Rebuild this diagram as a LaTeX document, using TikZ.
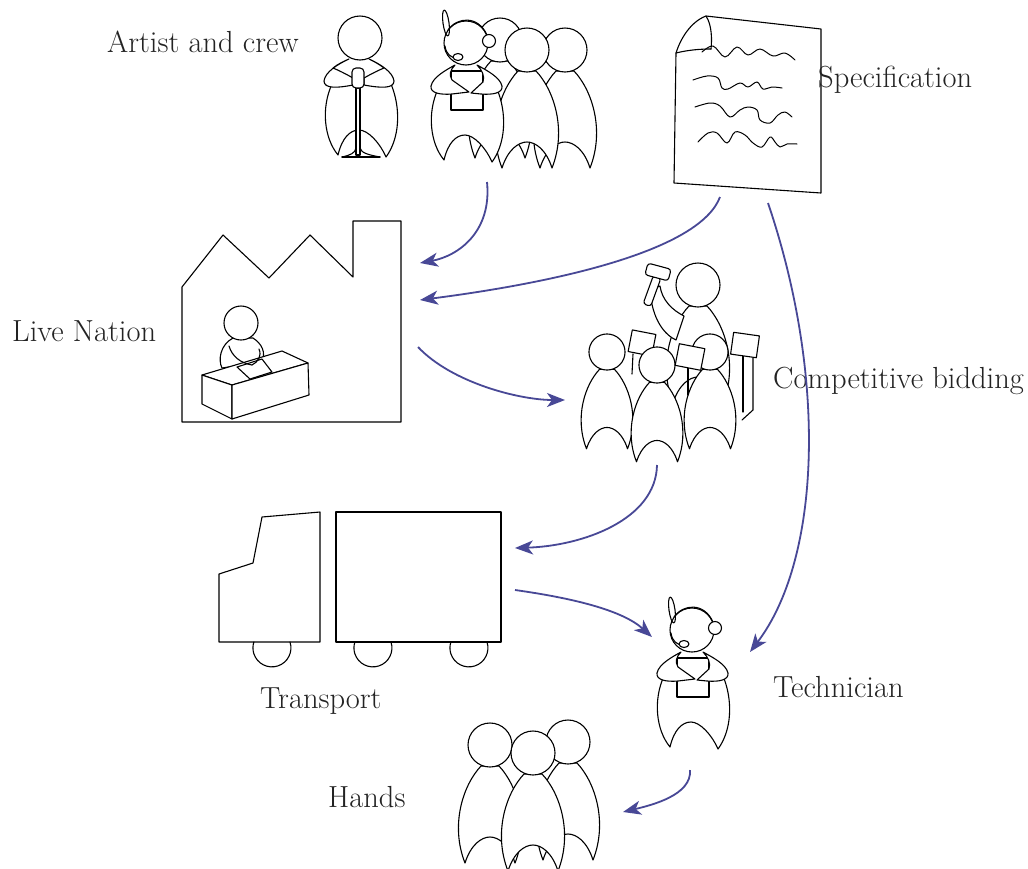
\documentclass[tikz,border=0pt]{standalone}
\usetikzlibrary{arrows.meta}
\definecolor{flowblue}{RGB}{72,72,150}
\definecolor{labelgray}{RGB}{35,35,35}
% lower body below the folded arms (relative to the head centre)
\newcommand{\lowerbody}{(-28,46) .. controls (-39,70) and (-36,100) .. (-22,117)
  .. controls (-18,100) and (-10,92) .. (-1,92)
  .. controls (8,92) and (20,105) .. (26,119)
  .. controls (40,100) and (41,70) .. (31,46) -- cycle}
% folded arms of a crew member holding a clipboard
\newcommand{\clipleftarm}{(-11,22) .. controls (-20,27) and (-33,34) .. (-35,43)
  .. controls (-36,50) and (-26,52) .. (-14,51) -- (3,49) -- (-14,37)
  .. controls (-17,32) and (-16,27) .. (-11,22) -- cycle}
\newcommand{\cliprightarm}{(11,22) .. controls (20,27) and (34,34) .. (36,43)
  .. controls (37,50) and (27,52) .. (15,51) -- (5,50) -- (17,39)
  .. controls (19,33) and (16,27) .. (11,22) -- cycle}
% folded arms of the singer, hands meeting at the microphone
\newcommand{\micleftarm}{(-11,21) .. controls (-22,26) and (-35,34) .. (-36,43)
  .. controls (-36,51) and (-22,50) .. (-7,47) -- (-7,40)
  .. controls (-14,36) and (-22,32) .. (-27,30)
  .. controls (-22,26) and (-16,23) .. (-11,21) -- cycle}
\newcommand{\micrightarm}{(9,21) .. controls (20,26) and (33,34) .. (34,43)
  .. controls (34,51) and (20,50) .. (4,47) -- (4,40)
  .. controls (11,36) and (19,32) .. (24,30)
  .. controls (19,26) and (13,23) .. (9,21) -- cycle}
\tikzset{
  x=1pt, y=-1pt,
  ink/.style={draw=black, line width=1.1pt, fill=white, line join=round, line cap=round},
  wire/.style={draw=black, line width=1.1pt, line join=round, line cap=round},
  flow/.style={draw=flowblue, line width=1.8pt, -{Stealth[length=18pt,width=14pt,inset=5pt]}},
  lbl/.style={anchor=base west, inner sep=0pt, font=\fontsize{30.5}{36}\selectfont, text=labelgray},
  person/.pic={
    \path[ink] (-9,21) .. controls (-27,40) and (-40,80) .. (-25,118)
      .. controls (-19,99) and (-8,92) .. (0,92)
      .. controls (8,92) and (19,99) .. (25,118)
      .. controls (40,80) and (27,40) .. (9,21) -- cycle;
    \path[ink] (0,0) circle[radius=22];
  },
  headset/.pic={
    \path[wire, rotate around={8:(-20,-20)}] (-20,-20) ellipse[x radius=3, y radius=13];
    \path[wire] (-18,-13) .. controls (-9,-26) and (12,-28) .. (21,-8);
    \path[ink] (23,-2) circle[radius=6.5];
    \path[wire] (-21,3) .. controls (-20,11) and (-15,15) .. (-9,15);
    \path[ink] (-8,14) ellipse[x radius=5, y radius=3.5];
  },
  crewman/.pic={
    \path[ink] \lowerbody;
    \path[ink] (-15,28) rectangle (17,67);
    \path[ink] \clipleftarm;
    \path[ink] \cliprightarm;
    \path[ink] (0,0) circle[radius=22];
    \pic {headset};
  },
  singer/.pic={
    \path[ink] \lowerbody;
    \path[ink] (-4,50) rectangle (0,117);
    \path[wire] (-18,119) .. controls (-9,117) and (-5,115) .. (-4,110);
    \path[wire] (20,119) .. controls (9,117) and (1,115) .. (0,110);
    \path[wire] (-18,119) -- (20,119);
    \path[ink] \micleftarm;
    \path[ink] \micrightarm;
    \path[ink, rounded corners=4] (-8,30) rectangle (4,50);
    \path[ink] (0,0) circle[radius=22];
  },
}
\begin{document}
\begin{tikzpicture}
\useasboundingbox (0,0) rectangle (1028,868);
\fill[white] (0,0) rectangle (1028,868);
\clip (0,0) rectangle (1028,868);

% ---------------- artist and crew ----------------
\pic at (500,40) {person};
\pic at (565,50) {person};
\pic at (527,50) {person};
\pic at (466,43) {crewman};
\pic at (360,38) {singer};
\node[lbl] (artist) at (107,52) {Artist and crew};

% ---------------- specification sheet ----------------
\path[ink] (706,16) -- (821,29) -- (821,193) -- (674,183) -- (676,53)
  .. controls (680,40) and (690,22) .. (706,16) -- cycle;
\path[wire] (706,16) .. controls (712,25) and (712,40) .. (711,49);
\path[wire] (676,53) .. controls (688,50) and (700,49) .. (711,49);
\begin{scope}[wire, line width=1pt]
\draw plot[smooth, tension=0.6] coordinates {(702,52) (713,46) (725,57) (737,47) (748,55) (760,49) (773,56) (785,53) (795,60)};
\draw plot[smooth, tension=0.6] coordinates {(693,80) (707,76) (718,78) (722,88) (728,89) (740,83) (748,87) (757,82) (763,89) (772,87) (782,88)};
\draw plot[smooth, tension=0.6] coordinates {(695,107) (710,103) (720,106) (730,117) (740,110) (748,107) (757,110) (760,120) (770,123) (778,115) (785,112) (792,117)};
\draw plot[smooth, tension=0.6] coordinates {(698,142) (708,133) (717,133) (727,143) (735,132) (745,135) (753,143) (762,147) (770,137) (775,142) (780,147) (787,144) (797,144)};
\end{scope}
\node[lbl] (spec) at (818,87) {Specification};

% ---------------- Live Nation office ----------------
\path[wire] (182,287) -- (223,235) -- (269,278) -- (310,235) -- (353,277)
  -- (353,221) -- (401,221) -- (401,422) -- (182,422) -- cycle;
\path[ink] (233,338) .. controls (220,345) and (218,360) .. (222,368)
  -- (262,362) .. controls (266,352) and (262,344) .. (253,338) -- cycle;
\path[ink] (241,323) circle[radius=17];
\path[ink] (202,375) -- (282,351) -- (308,363) -- (232,385) -- cycle;
\path[ink] (202,375) -- (232,385) -- (232,419) -- (202,404) -- cycle;
\path[ink] (232,385) -- (308,363) -- (309,395) -- (232,419) -- cycle;
\path[ink] (237,367) -- (262,359) -- (272,372) -- (250,379) -- cycle;
\path[wire] (229,346) .. controls (232,356) and (240,363) .. (252,365);
\path[wire] (259,349) .. controls (262,356) and (258,362) .. (252,365);
\node[lbl] (livenation) at (12,341) {Live Nation};

% ---------------- competitive bidding ----------------
\pic at (698,285) {person};
\path[ink] (650,290) .. controls (652,320) and (665,335) .. (676,340)
  -- (684,316) .. controls (672,310) and (662,300) .. (660,286) -- cycle;
\path[ink, rounded corners=3, rotate around={-20:(652,291)}] (648,276) rectangle (656,306);
\path[ink, rounded corners=3, rotate around={-15:(658,272)}] (646,266) rectangle (670,278);
\path[wire] (743,355) -- (743,412);
\path[wire] (753,358) -- (753,410) -- (742,420);
\pic[scale=0.82] at (710,352) {person};
\path[ink, rotate around={-8:(745,345)}] (732,334) rectangle (758,356);
\path[wire] (633,354) -- (632,374);
\pic[scale=0.82] at (607,352) {person};
\path[ink, rotate around={-11:(642,343)}] (630,332) rectangle (654,354);
\path[wire] (688,368) -- (688,395);
\pic[scale=0.82] at (657,365) {person};
\path[ink, rotate around={-11:(690,357)}] (677,346) rectangle (703,368);
\node[lbl] (bidding) at (773,388) {Competitive bidding};

% ---------------- transport ----------------
\path[wire] (219,642) -- (219,574) -- (253,563) -- (262,517) -- (320,512) -- (320,642) -- cycle;
\path[wire] (336,512) rectangle (501,642);
\path[wire] (290,642) arc[start angle=-18, end angle=198, radius=19];
\path[wire] (391,642) arc[start angle=-18, end angle=198, radius=19];
\path[wire] (487,642) arc[start angle=-18, end angle=198, radius=19];
\node[lbl] (transport) at (260,708) {Transport};

% ---------------- technician ----------------
\pic at (692,630) {crewman};
\node[lbl] (technician) at (773,697) {Technician};

% ---------------- hands ----------------
\pic at (490,745) {person};
\pic at (568,742) {person};
\pic at (533,753) {person};
\node[lbl] (hands) at (328,807) {Hands};

% ---------------- flow of the job ----------------
\coordinate (crewOut)  at (487,182);
\coordinate (lnIn1)    at (420,263);
\coordinate (specOut1) at (720,197);
\coordinate (lnIn2)    at (420,300);
\coordinate (lnOut)    at (418,347);
\coordinate (bidIn)    at (565,400);
\coordinate (specOut2) at (768,203);
\coordinate (techIn1)  at (750,652);
\coordinate (bidOut)   at (657,465);
\coordinate (truckIn)  at (515,548);
\coordinate (truckOut) at (515,590);
\coordinate (techIn2)  at (652,637);
\coordinate (techOut)  at (690,770);
\coordinate (handsIn)  at (623,812);
\draw[flow] (crewOut) .. controls (492,232) and (458,256) .. (lnIn1);
\draw[flow] (specOut1) .. controls (700,250) and (560,282) .. (lnIn2);
\draw[flow] (lnOut) .. controls (452,383) and (520,400) .. (bidIn);
\draw[flow] (specOut2) .. controls (828,380) and (820,560) .. (techIn1);
\draw[flow] (bidOut) .. controls (656,520) and (582,546) .. (truckIn);
\draw[flow] (truckOut) .. controls (572,598) and (622,610) .. (techIn2);
\draw[flow] (techOut) .. controls (692,795) and (652,805) .. (handsIn);
\end{tikzpicture}
\end{document}
